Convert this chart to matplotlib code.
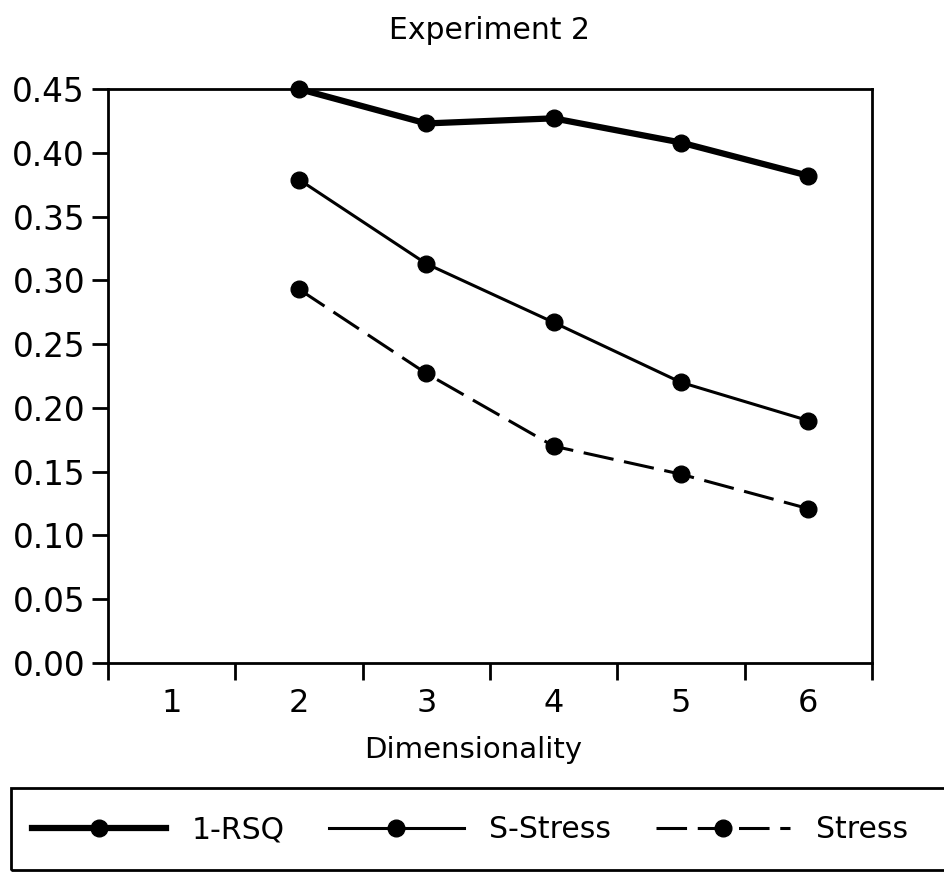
import matplotlib
matplotlib.use("Agg")
import matplotlib.pyplot as plt
from matplotlib.patches import Rectangle

# values
dims = [2, 3, 4, 5, 6]
rsq = [0.450, 0.423, 0.427, 0.408, 0.382]
s_stress = [0.379, 0.313, 0.267, 0.220, 0.190]
stress = [0.293, 0.227, 0.170, 0.148, 0.121]
x_labels = ["1", "2", "3", "4", "5", "6"]
y_ticks = [0.00, 0.05, 0.10, 0.15, 0.20, 0.25, 0.30, 0.35, 0.40, 0.45]

plt.rcParams["font.family"] = ["DejaVu Sans"]
plt.rcParams["font.size"] = 21

fig = plt.figure(figsize=(9.45, 8.73), dpi=100)
ax = fig.add_axes([108 / 945, 210 / 873, 764 / 945, 574 / 873])

ax.plot(dims, rsq, color="black", lw=4.5, marker="o", ms=12,
        clip_on=False, label="1-RSQ", zorder=3)
ax.plot(dims, s_stress, color="black", lw=2.2, marker="o", ms=12,
        clip_on=False, label="S-Stress", zorder=3)
ax.plot(dims, stress, color="black", lw=2.2, marker="o", ms=12,
        dashes=(10, 3.5), clip_on=False, label="Stress", zorder=3)

ax.set_xlim(0.5, 6.5)
ax.set_ylim(0, 0.45)
ax.set_yticks(y_ticks)
ax.set_yticklabels([f"{v:.2f}" for v in y_ticks])
ax.set_xticks(range(1, len(x_labels) + 1))
ax.set_xticklabels(x_labels)
ax.set_xticks([i + 0.5 for i in range(len(x_labels) + 1)], minor=True)

ax.tick_params(axis="y", direction="out", length=11.5, width=2, pad=5,
               labelsize=23.5)
ax.tick_params(axis="x", which="major", length=0, pad=18, labelsize=23)
ax.tick_params(axis="x", which="minor", direction="out", length=12, width=2)
for sp in ax.spines.values():
    sp.set_linewidth(2)

ax.set_xlabel("Dimensionality", fontsize=21, labelpad=12)
ax.xaxis.label.set_x(0.478)
ax.set_title("Experiment 2", fontsize=21.5, pad=36)

# legend box runs off the right and bottom edge like the original
fig.patches.append(Rectangle((11 / 945, 3 / 873), 1.0, 82 / 873,
                             transform=fig.transFigure, fill=False,
                             edgecolor="black", lw=2))
handles, labels = ax.get_legend_handles_labels()
fig.legend(handles, labels, loc="center", bbox_to_anchor=(0.497, 0.0493),
           ncol=3, frameon=False, fontsize=21.5, handlelength=4.5,
           handletextpad=0.85, columnspacing=1.5)

fig.savefig("out.png", dpi=100)
